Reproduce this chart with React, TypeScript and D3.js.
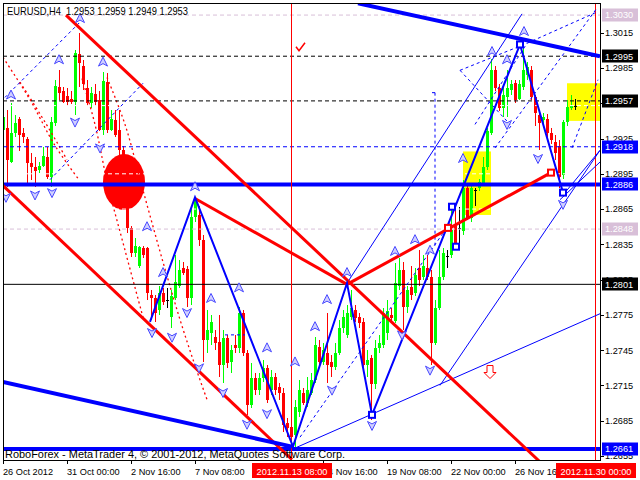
import React from 'react';
import * as d3 from 'd3';

// ---- candle data (bar index = position in arrays, H4 bars from 26 Oct 2012 08:00) ----
const opens = [1.2932,1.2934,1.2905,1.2930,1.2942,1.2930,1.2925,1.2904,1.2901,1.2898,1.2902,1.2909,1.2892,1.2938,1.2969,1.2965,1.2961,1.2959,1.2956,1.2997,
1.2987,1.2968,1.2955,1.2963,1.2958,1.2932,1.2973,1.2932,1.2941,1.2932,1.2915,1.2873,1.2849,1.2828,1.2817,1.2832,1.2832,1.2792,1.2789,1.2779,
1.2794,1.2788,1.2773,1.2789,1.2800,1.2815,1.2814,1.2789,1.2858,1.2860,1.2839,1.2754,1.2760,1.2756,1.2752,1.2732,1.2755,1.2735,1.2749,1.2747,
1.2777,1.2743,1.2698,1.2721,1.2711,1.2721,1.2730,1.2711,1.2722,1.2714,1.2709,1.2683,1.2680,1.2673,1.2692,1.2709,1.2700,1.2709,1.2720,1.2748,
1.2735,1.2743,1.2735,1.2731,1.2743,1.2764,1.2758,1.2773,1.2779,1.2773,1.2769,1.2732,1.2738,1.2716,1.2747,1.2749,1.2760,1.2775,1.2770,1.2800,
1.2813,1.2782,1.2799,1.2794,1.2815,1.2807,1.2815,1.2807,1.2751,1.2781,1.2807,1.2825,1.2826,1.2851,1.2849,1.2846,1.2883,1.2857,1.2881,1.2883,
1.2887,1.2901,1.2930,1.2983,1.2968,1.2951,1.2960,1.2966,1.2972,1.2959,1.2969,1.2979,1.2983,1.2960,1.2945,1.2941,1.2942,1.2930,1.2922,1.2919,
1.2894,1.2939,1.2951,1.2953];
const highs = [1.2954,1.2949,1.2955,1.2945,1.2943,1.2934,1.2926,1.2913,1.2909,1.2905,1.2918,1.2918,1.2943,1.2975,1.2983,1.2969,1.2968,1.2965,1.3000,1.3015,
1.2992,1.2975,1.2969,1.2971,1.2965,1.2982,1.2981,1.2949,1.2949,1.2949,1.2919,1.2877,1.2851,1.2840,1.2834,1.2834,1.2833,1.2796,1.2792,1.2800,
1.2798,1.2798,1.2796,1.2826,1.2822,1.2820,1.2817,1.2868,1.2875,1.2868,1.2843,1.2779,1.2775,1.2762,1.2775,1.2762,1.2758,1.2749,1.2758,1.2782,
1.2779,1.2745,1.2734,1.2726,1.2726,1.2737,1.2732,1.2728,1.2726,1.2717,1.2713,1.2687,1.2683,1.2703,1.2720,1.2713,1.2722,1.2726,1.2756,1.2754,
1.2751,1.2777,1.2741,1.2751,1.2771,1.2779,1.2783,1.2796,1.2783,1.2777,1.2772,1.2745,1.2741,1.2754,1.2758,1.2781,1.2788,1.2781,1.2819,1.2823,
1.2820,1.2800,1.2817,1.2815,1.2830,1.2826,1.2826,1.2813,1.2788,1.2830,1.2832,1.2830,1.2868,1.2867,1.2867,1.2890,1.2885,1.2887,1.2883,1.2891,
1.2909,1.2934,1.2993,1.2987,1.2971,1.2971,1.2983,1.2975,1.2975,1.2975,1.3009,1.2990,1.2987,1.2962,1.2949,1.2947,1.2946,1.2934,1.2928,1.2924,
1.2941,1.2958,1.2962,1.2959];
const lows = [1.2907,1.2884,1.2904,1.2926,1.2914,1.2921,1.2885,1.2890,1.2884,1.2896,1.2901,1.2891,1.2884,1.2936,1.2958,1.2955,1.2953,1.2954,1.2945,1.2969,
1.2966,1.2953,1.2951,1.2953,1.2931,1.2928,1.2930,1.2931,1.2926,1.2911,1.2864,1.2845,1.2824,1.2824,1.2815,1.2823,1.2788,1.2771,1.2769,1.2775,
1.2783,1.2781,1.2764,1.2788,1.2798,1.2809,1.2782,1.2783,1.2854,1.2834,1.2735,1.2743,1.2749,1.2745,1.2722,1.2717,1.2730,1.2726,1.2743,1.2743,
1.2740,1.2690,1.2696,1.2707,1.2707,1.2718,1.2700,1.2707,1.2707,1.2703,1.2675,1.2671,1.2665,1.2661,1.2688,1.2698,1.2697,1.2707,1.2717,1.2731,
1.2732,1.2717,1.2722,1.2728,1.2741,1.2760,1.2755,1.2771,1.2769,1.2764,1.2730,1.2722,1.2686,1.2712,1.2743,1.2747,1.2754,1.2769,1.2768,1.2796,
1.2762,1.2777,1.2788,1.2791,1.2800,1.2805,1.2805,1.2732,1.2749,1.2779,1.2805,1.2815,1.2823,1.2830,1.2836,1.2843,1.2856,1.2854,1.2868,1.2880,
1.2885,1.2898,1.2928,1.2965,1.2948,1.2943,1.2943,1.2962,1.2955,1.2958,1.2966,1.2975,1.2958,1.2936,1.2915,1.2936,1.2926,1.2920,1.2907,1.2883,
1.2891,1.2936,1.2949,1.2949];
const closes = [1.2943,1.2907,1.2930,1.2938,1.2928,1.2926,1.2904,1.2901,1.2897,1.2902,1.2910,1.2892,1.2939,1.2970,1.2964,1.2956,1.2956,1.2956,1.2998,1.2989,
1.2971,1.2955,1.2964,1.2956,1.2932,1.2974,1.2932,1.2942,1.2928,1.2915,1.2873,1.2849,1.2828,1.2834,1.2833,1.2826,1.2794,1.2789,1.2777,1.2794,
1.2786,1.2788,1.2791,1.2803,1.2813,1.2811,1.2789,1.2858,1.2874,1.2839,1.2754,1.2762,1.2769,1.2751,1.2732,1.2755,1.2734,1.2745,1.2747,1.2777,
1.2743,1.2698,1.2721,1.2711,1.2721,1.2730,1.2703,1.2722,1.2711,1.2709,1.2681,1.2679,1.2671,1.2697,1.2711,1.2700,1.2711,1.2720,1.2749,1.2735,
1.2745,1.2732,1.2731,1.2743,1.2764,1.2773,1.2777,1.2781,1.2772,1.2768,1.2732,1.2737,1.2716,1.2747,1.2751,1.2777,1.2778,1.2772,1.2802,1.2813,
1.2782,1.2796,1.2792,1.2809,1.2805,1.2817,1.2807,1.2751,1.2781,1.2807,1.2828,1.2825,1.2847,1.2832,1.2849,1.2883,1.2857,1.2883,1.2881,1.2888,
1.2901,1.2931,1.2983,1.2968,1.2951,1.2962,1.2968,1.2971,1.2958,1.2971,1.2983,1.2986,1.2960,1.2947,1.2938,1.2943,1.2930,1.2924,1.2913,1.2892,
1.2939,1.2952,1.2953,1.2953];

const headerText = 'EURUSD,H4  1.2953 1.2959 1.2949 1.2953';
const copyrightText = 'RoboForex - MetaTrader 4, © 2001-2012, MetaQuotes Software Corp.';

// ---- axes ----
const priceTicks = [1.3015,1.2985,1.2955,1.2925,1.2895,1.2865,1.2835,1.2805,1.2775,1.2745,1.2715,1.2685,1.2655];
const timeTickBars = [0,16,32,48,80,96,112,128];
const timeTickLabels = ['26 Oct 2012','31 Oct 00:00','2 Nov 16:00','7 Nov 08:00','14 Nov 16:00','19 Nov 08:00','22 Nov 00:00','26 Nov 16:00'];
const eventBars = [72,148];
const eventLabels = ['2012.11.13 08:00','2012.11.30 00:00'];

// ---- horizontal levels ----
const levelPrices = [1.3030,1.2995,1.2957,1.2918,1.2886,1.2848,1.2801,1.2661];
const levelLabels = ['1.3030','1.2995','1.2957','1.2918','1.2886','1.2848','1.2801','1.2661'];
const hiddenLevels = [1.2953,1.2895,1.2865];

// ---- drawn objects, as [bar, price] points ----
const redThickLines = [
  [[15.75,1.3030],[135.5,1.2646]],
  [[0,1.2885],[72.25,1.2652]],
  [[48,1.2874],[86,1.2801]],
  [[86,1.2801],[137,1.2896]],
];
const blueThickLines = [
  [[88.75,1.3040],[149.25,1.2995]],
  [[0,1.2718],[72.25,1.2663]],
];
const zigzag = [[36.75,1.2769],[48,1.2875],[72.5,1.2663],[86,1.2802],[92.25,1.2690],[129.25,1.3005],[140,1.2879]];
const blueThinLines = [
  [[72.5,1.2661],[149.25,1.2776]],
  [[86,1.2802],[129.75,1.3031]],
  [[109.25,1.2715],[149.25,1.2915]],
  [[140,1.2877],[149.25,1.2915]],
  [[139.25,1.2873],[149.25,1.2905]],
];
const blueDashedLines = [
  [[0.5,1.2960],[19.25,1.3024]],
  [[11.75,1.2890],[35,1.2972]],
  [[74.25,1.2671],[111.75,1.2853]],
  [[108,1.2964],[108,1.2834]],
  [[107.25,1.2964],[108.5,1.2964]],
  [[114.25,1.2983],[131,1.3006]],
  [[114.25,1.2983],[126.75,1.2937]],
  [[118,1.2937],[131,1.3006]],
  [[123,1.2917],[148.5,1.3036]],
  [[131,1.3006],[148.75,1.3033]],
  [[142.25,1.2917],[148.75,1.2975]],
  [[55.5,1.2758],[60.5,1.2758]],
];
const redDottedCurves = [
  [[0,1.2994],[6.75,1.2958],[13,1.2919],[18.75,1.2891]],
  [[4.25,1.2973],[10.5,1.2939],[16,1.2907]],
  [[19.75,1.2976],[23,1.2937],[26.25,1.2885],[30.5,1.2830],[35,1.2773]],
  [[26,1.2977],[30.5,1.2937],[35,1.2881],[40,1.2820],[44.25,1.2771],[48,1.2732],[51,1.2703]],
];
const blueSquares = [[129.25,1.3005],[140,1.2879],[112.25,1.2867],[113.25,1.2833],[92.25,1.2690]];
const redSquares = [[111.25,1.2849],[137,1.2896]];
const upArrows = [[19.25,1.3027],[14,1.2992],[25,1.2990],[2,1.2962],[48,1.2884],[36,1.2850],[40,1.2811],[59,1.2798],[52,1.2789],
  [66,1.2747],[73,1.2735],[78,1.2765],[81,1.2788],[86,1.2811],[98,1.2829],[103,1.2839],[106.75,1.2830],[115,1.2908],[122.25,1.2999],[126,1.2992],[130.25,1.3016]];
const downArrows = [[0.75,1.2875],[8,1.2877],[12.25,1.2879],[18,1.2939],[24.25,1.2917],[37.25,1.2760],[42.25,1.2756],[46,1.2777],[49,1.2730],
  [55,1.2709],[61,1.2682],[66,1.2691],[82.25,1.2711],[92.25,1.2681],[99.75,1.2758],[106.75,1.2728],[126,1.2937],[133.75,1.2908],[140,1.2869]];
const yellowZones = [
  [[115,1.2914],[122,1.2860]],
  [[141,1.2972],[149.25,1.2940]],
];
const bigEllipse = [30.25,1.2888];
const checkMark = [74.25,1.3003];
const sellArrow = [121.75,1.2726];

const PL = 3, PR = 600, PT = 3, PB = 460;
const FONT = 'Liberation Sans, Arial, sans-serif';

export default function App() {
  const x = d3.scaleLinear().domain([0, 148]).range([3, 595]);
  const y = d3.scaleLinear().domain([1.2655, 1.3015]).range([456, 32.7]);
  const pt = (d: number[]) => [x(d[0]), y(d[1])] as [number, number];
  const seg = (a: number[][]) => {
    const [x1, y1] = pt(a[0]);
    const [x2, y2] = pt(a[1]);
    return { x1, y1, x2, y2 };
  };
  const curve = d3.line<number[]>().x(d => x(d[0])).y(d => y(d[1])).curve(d3.curveCatmullRom);
  const poly = d3.line<number[]>().x(d => x(d[0])).y(d => y(d[1]));

  const levelStyle = [
    { stroke: '#D8BFD8', w: 1, dash: '4,3', bg: '#D8BFD8', fg: '#FFFFFF' },
    { stroke: '#000000', w: 1, dash: '4,3', bg: '#000000', fg: '#FFFFFF' },
    { stroke: '#000000', w: 1, dash: '4,3', bg: '#000000', fg: '#FFFFFF' },
    { stroke: '#0000FF', w: 1, dash: '4,3', bg: '#0000FF', fg: '#FFFFFF' },
    { stroke: '#0000FF', w: 4, dash: undefined, bg: '#0000FF', fg: '#FFFFFF' },
    { stroke: '#D8BFD8', w: 1, dash: '4,3', bg: '#D8BFD8', fg: '#FFFFFF' },
    { stroke: '#000000', w: 1, dash: undefined, bg: '#000000', fg: '#FFFFFF' },
    { stroke: '#0000FF', w: 4, dash: undefined, bg: '#0000FF', fg: '#FFFFFF' },
  ];

  const arrowPath = (d: number[], up: boolean) => {
    const [cx, cy] = pt(d);
    const s = up ? 1 : -1;
    return `M${cx},${cy - 5 * s} L${cx + 4.5},${cy + 4 * s} L${cx},${cy + 1.5 * s} L${cx - 4.5},${cy + 4 * s} Z`;
  };

  const [ckx, cky] = pt(checkMark);
  const [sax, say] = pt(sellArrow);
  const [ex, ey] = pt(bigEllipse);

  return (
    <svg width={640} height={480} style={{ position: 'absolute', left: 0, top: 0, background: '#fff' }}>
      <defs>
        <clipPath id="plotclip">
          <rect x={PL} y={PT} width={PR - PL} height={PB - PT} />
        </clipPath>
        <clipPath id="pricelabelclip">
          <rect x={601} y={0} width={39} height={480} />
        </clipPath>
      </defs>
      <rect x={0} y={0} width={640} height={480} fill="#fff" />
      <g clipPath="url(#plotclip)">
        {yellowZones.map((z, i) => {
          const [x1, y1] = pt(z[0]);
          const [x2, y2] = pt(z[1]);
          return <rect key={'yz' + i} x={x1} y={y1} width={x2 - x1} height={y2 - y1} fill="#FFFF00" />;
        })}
        {opens.map((o, i) => {
          const c = closes[i];
          const cx = Math.round(x(i));
          const col = c > o ? '#00FF00' : c < o ? '#FF0000' : '#000000';
          const top = Math.round(y(Math.max(o, c)));
          const bot = Math.round(y(Math.min(o, c)));
          return (
            <g key={'c' + i} shapeRendering="crispEdges">
              <line x1={cx + 0.5} x2={cx + 0.5} y1={Math.round(y(highs[i]))} y2={Math.round(y(lows[i]))} stroke={col} strokeWidth={1} />
              {c === o
                ? <line x1={cx - 1} x2={cx + 2} y1={top + 0.5} y2={top + 0.5} stroke={col} />
                : <rect x={cx - 1} y={top} width={3} height={Math.max(1, bot - top)} fill={col} />}
            </g>
          );
        })}
        <ellipse cx={ex} cy={ey} rx={21} ry={28} fill="#FF0000" />
        {hiddenLevels.map((p, i) => (
          <line key={'hl' + i} x1={PL} x2={PR} y1={y(p)} y2={y(p)} stroke="#FFFFFF" strokeDasharray="4,3" />
        ))}
        {redDottedCurves.map((c, i) => (
          <path key={'rd' + i} d={curve(c) || ''} fill="none" stroke="#FF0000" strokeWidth={1.3} strokeDasharray="2,3" />
        ))}
        {levelPrices.map((p, i) => (
          <line key={'lv' + i} x1={PL} x2={PR} y1={y(p)} y2={y(p)} stroke={levelStyle[i].stroke}
            strokeWidth={levelStyle[i].w} strokeDasharray={levelStyle[i].dash} />
        ))}
        {eventBars.map((b, i) => (
          <line key={'ev' + i} x1={x(b) + 0.5} x2={x(b) + 0.5} y1={PT} y2={PB} stroke="#FF0000" strokeWidth={1} />
        ))}
        {blueDashedLines.map((l, i) => (
          <line key={'bd' + i} {...seg(l)} stroke="#0000FF" strokeWidth={1} strokeDasharray="3,3" />
        ))}
        {blueThinLines.map((l, i) => (
          <line key={'bt' + i} {...seg(l)} stroke="#0000FF" strokeWidth={1} />
        ))}
        {redThickLines.map((l, i) => (
          <line key={'rt' + i} {...seg(l)} stroke="#FF0000" strokeWidth={3} />
        ))}
        {blueThickLines.map((l, i) => (
          <line key={'bk' + i} {...seg(l)} stroke="#0000FF" strokeWidth={4} />
        ))}
        <path d={poly(zigzag) || ''} fill="none" stroke="#0000FF" strokeWidth={2} />
        {blueSquares.map((s, i) => {
          const [sx, sy] = pt(s);
          return <rect key={'bs' + i} x={sx - 3} y={sy - 3} width={6} height={6} fill="#fff" stroke="#0000FF" strokeWidth={2} />;
        })}
        {redSquares.map((s, i) => {
          const [sx, sy] = pt(s);
          return <rect key={'rs' + i} x={sx - 3} y={sy - 3} width={6} height={6} fill="#fff" stroke="#FF0000" strokeWidth={2} />;
        })}
        {upArrows.map((a, i) => (
          <path key={'ua' + i} d={arrowPath(a, true)} fill="#D0D0FF" stroke="#4848FF" strokeWidth={1} />
        ))}
        {downArrows.map((a, i) => (
          <path key={'da' + i} d={arrowPath(a, false)} fill="#D0D0FF" stroke="#4848FF" strokeWidth={1} />
        ))}
        <path d={`M${ckx - 4},${cky} L${ckx - 1},${cky + 4} L${ckx + 5},${cky - 4}`} fill="none" stroke="#FF0000" strokeWidth={1.5} />
        <path d={`M${sax - 3},${say - 7} L${sax + 3},${say - 7} L${sax + 3},${say} L${sax + 6},${say} L${sax},${say + 6} L${sax - 6},${say} L${sax - 3},${say} Z`}
          fill="#fff" stroke="#FF0000" strokeWidth={1} />
      </g>

      <rect x={PL + 0.5} y={PT + 0.5} width={PR - PL} height={PB - PT} fill="none" stroke="#000" strokeWidth={1} shapeRendering="crispEdges" />

      <text x={7} y={15} fontFamily={FONT} fontSize={10.5} fill="#000" textLength={181} lengthAdjust="spacingAndGlyphs" xmlSpace="preserve">{headerText}</text>
      <text x={5} y={458} fontFamily={FONT} fontSize={11} fill="#000" textLength={340} lengthAdjust="spacingAndGlyphs">{copyrightText}</text>

      {/* right price axis */}
      {priceTicks.map((p, i) => (
        <g key={'pt' + i}>
          <line x1={PR} x2={PR + 4} y1={Math.round(y(p)) + 0.5} y2={Math.round(y(p)) + 0.5} stroke="#000" />
          <text x={605} y={y(p) + 3.4} fontFamily={FONT} fontSize={9.2} fill="#000">{p.toFixed(4)}</text>
        </g>
      ))}
      {levelPrices.map((p, i) => (
        <g key={'lb' + i}>
          <rect x={602} y={Math.round(y(p)) - 6.5} width={36} height={13} fill={levelStyle[i].bg} />
          <text x={605} y={y(p) + 3.4} fontFamily={FONT} fontSize={9.2} fill={levelStyle[i].fg}>{levelLabels[i]}</text>
        </g>
      ))}

      {/* bottom time axis */}
      {timeTickBars.map((b, i) => (
        <g key={'tt' + i}>
          <line x1={Math.round(x(b)) + 0.5} x2={Math.round(x(b)) + 0.5} y1={PB} y2={PB + 4} stroke="#000" />
          <text x={x(b)} y={475} fontFamily={FONT} fontSize={9.2} fill="#000">{timeTickLabels[i]}</text>
        </g>
      ))}
      {eventBars.map((b, i) => (
        <g key={'el' + i}>
          <rect x={x(b) - 39} y={463} width={80} height={15} fill="#FF0000" />
          <text x={x(b) + 1} y={475} fontFamily={FONT} fontSize={9.2} fill="#FFFFFF" textAnchor="middle">{eventLabels[i]}</text>
        </g>
      ))}
    </svg>
  );
}
